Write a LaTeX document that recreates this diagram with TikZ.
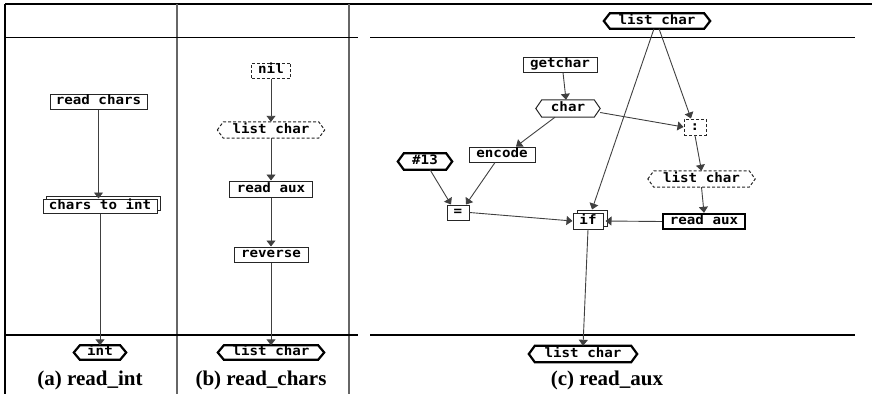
\documentclass[tikz,border=0pt]{standalone}
\usepackage{fontspec}
\setmainfont{Liberation Serif}
\newfontfamily\monof{DejaVu Sans Mono}[FakeStretch=1.09]
\usetikzlibrary{arrows.meta,shadows}
\newcommand\hexpath[2]{\draw[#2] (#1.west) -- ([xshift=6pt]#1.north west) -- ([xshift=-6pt]#1.north east) -- (#1.east) -- ([xshift=-6pt]#1.south east) -- ([xshift=6pt]#1.south west) -- cycle;}
\begin{document}
\begin{tikzpicture}[x=1pt,y=-1pt,
  lbl/.style={font=\monof\bfseries\fontsize{13}{13}\selectfont, inner sep=0pt, text height=9pt, text depth=2.5pt, anchor=center},
  sz/.style 2 args={minimum width=#1pt, minimum height=#2pt},
  box/.style={lbl, rectangle, draw=black!85, line width=1pt, fill=white},
  tbox/.style={box, draw=black, line width=2.4pt},
  dbox/.style={box, dash pattern=on 3pt off 2pt},
  stack/.style 2 args={box, copy shadow={shadow xshift=#1pt, shadow yshift=#2pt}},
  hexn/.style={lbl},
  thex/.style={draw=black, line width=2.2pt, line join=miter},
  hhex/.style={draw=black!85, line width=1pt},
  dhex/.style={draw=black!85, line width=1pt, dash pattern=on 3pt off 2pt},
  conn/.style={draw=black!75, line width=0.9pt, -{Triangle[width=9pt,length=6pt]}},
  frame/.style={line width=1.2pt, black},
  vframe/.style={line width=1.6pt, black!60},
  captxt/.style={font=\bfseries\fontsize{21}{21}\selectfont, inner sep=0pt}
]
\useasboundingbox (0,0) rectangle (872,394);
% frame
\draw[frame] (5,4) -- (872,4);
\draw[frame] (5,4) -- (5,394);
\draw[vframe] (177,4) -- (177,394);
\draw[vframe] (349,4) -- (349,394);
\draw[frame] (5,37.5) -- (358,37.5);
\draw[frame] (370,37.5) -- (855,37.5);
\draw[frame] (5,335) -- (358,335);
\draw[frame] (370,335) -- (855,335);

% panel a
\node[box, sz={97}{15}] (rc) at (98.5,101.5) {read chars};
\node[stack={3}{3}, sz={114}{14}] (cti) at (100,206) {chars to int};
\node[hexn, sz={52}{14}] (int) at (100,352.5) {int}; \hexpath{int}{thex}
\node[captxt] (capa) at (90,380) {(a) read\_int};
\draw[conn] (rc.south) -- (rc.south |- cti.north);
\draw[conn] (cti.south) -- (int.north);

% panel b
\node[dbox, sz={39}{15}] (nil) at (271,70.5) {nil};
\node[hexn, sz={107}{16}] (lcb1) at (271,130) {list char}; \hexpath{lcb1}{dhex}
\node[box, sz={83}{16}] (rab) at (271,189) {read aux};
\node[box, sz={74}{15}] (rev) at (271,254.5) {reverse};
\node[hexn, sz={106}{14}] (lcb2) at (271,352.5) {list char}; \hexpath{lcb2}{thex}
\node[captxt] (capb) at (261,380) {(b) read\_chars};
\draw[conn] (nil.south) -- (lcb1.north);
\draw[conn] (lcb1.south) -- (rab.north);
\draw[conn] (rab.south) -- (rev.north);
\draw[conn] (rev.south) -- (lcb2.north);

% panel c
\node[hexn, sz={106}{15}] (lct) at (657,21) {list char}; \hexpath{lct}{thex}
\node[box, sz={74}{15}] (gc) at (560,64.5) {getchar};
\node[hexn, sz={64}{17}] (ch) at (568,108.5) {char}; \hexpath{ch}{hhex}
\node[box, sz={66}{15}] (enc) at (502,154.5) {encode};
\node[hexn, sz={54}{16}] (h13) at (425,161.5) {\#13}; \hexpath{h13}{thex}
\node[box, sz={22}{15}] (eq) at (458,212.5) {=};
\node[stack={4}{3}, sz={30}{16}] (if) at (588,221) {if};
\node[dbox, sz={22}{16}] (col) at (695,127) {:};
\node[hexn, sz={107}{16}] (lcd) at (701.5,179) {list char}; \hexpath{lcd}{dhex}
\node[tbox, sz={82}{15}] (ra) at (704,221.5) {read aux};
\node[hexn, sz={108}{16}] (lcbot) at (583,354) {list char}; \hexpath{lcbot}{thex}
\node[captxt] (capc) at (607,380) {(c) read\_aux};

\draw[conn] ([xshift=-3pt]lct.south) -- ([xshift=4pt,yshift=3pt]if.north);
\draw[conn] ([xshift=2pt]lct.south) -- ([xshift=-4pt]col.north);
\draw[conn] ([xshift=3pt]gc.south) -- ([xshift=-2pt]ch.north);
\draw[conn] ([yshift=-4pt]ch.east) -- (col.west);
\draw[conn] ([xshift=-13pt]ch.south) -- ([xshift=14pt]enc.north);
\draw[conn] ([xshift=-7pt]enc.south) -- ([xshift=8pt]eq.north);
\draw[conn] ([xshift=5pt]h13.south) -- ([xshift=-7pt]eq.north);
\draw[conn] (eq.east) -- (if.west);
\draw[conn] (col.south) -- (lcd.north);
\draw[conn] (lcd.south) -- (ra.north);
\draw[conn] (ra.west) -- ([xshift=2pt]if.east);
\draw[conn] (if.south) -- (lcbot.north);
\end{tikzpicture}
\end{document}
